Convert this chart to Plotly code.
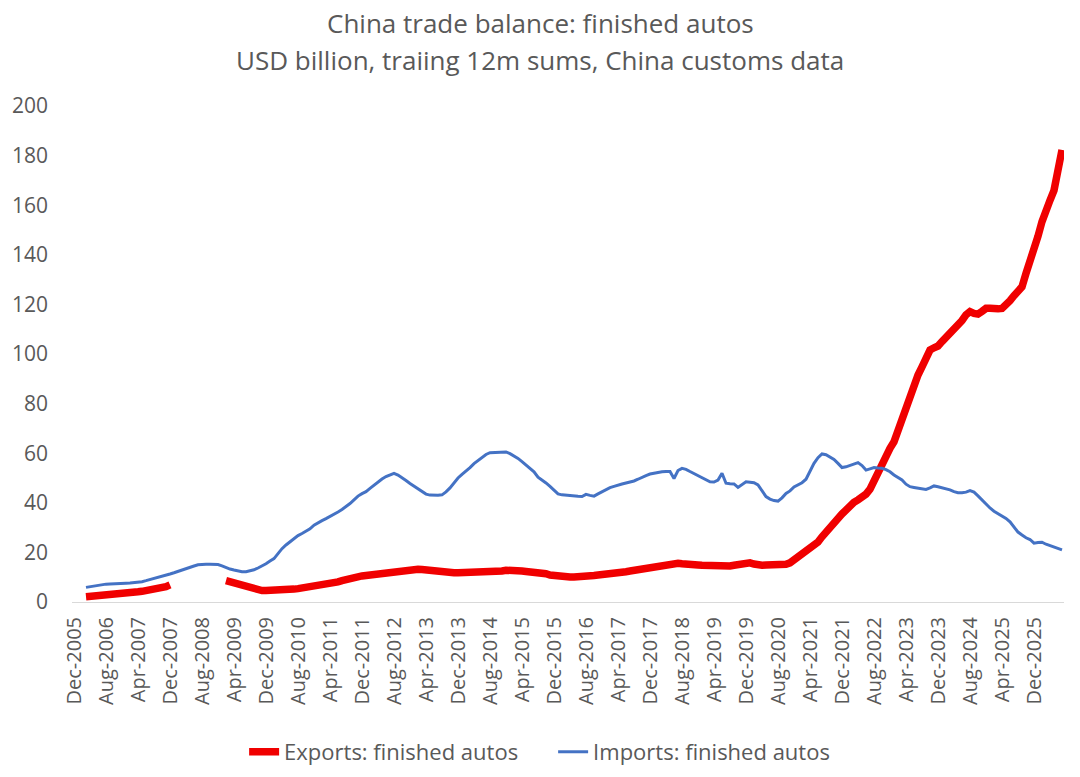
import pandas as pd
import plotly.graph_objects as go

# monthly categories, Dec-2005 .. Jul-2026
months = pd.date_range("2005-12-01", periods=248, freq="MS")
categories = [d.strftime("%b-%Y") for d in months]
tick_labels = categories[::8]

# trailing 12m imports, USD bn
imports = [None, None, None,
    5.9, 6.2, 6.5, 6.7, 7.0, 7.2, 7.3, 7.3, 7.4, 7.5,                # 2006
    7.6, 7.7, 7.8, 7.9, 8.2, 8.6, 9.0, 9.4, 9.8, 10.2, 10.7, 11.3,   # 2007
    11.8, 12.4, 13.0, 13.5, 14.0, 14.5, 15.0, 15.2, 15.2, 15.2, 15.2, 15.1,
    14.6, 13.9, 13.3, 12.9, 12.4, 12.2, 12.2, 12.5, 13.0, 13.7, 14.5, 15.4,
    16.5, 17.5, 19.5, 21.5, 23.0, 24.3, 25.6, 26.8, 27.6, 28.4, 29.5, 31.0,
    32.0, 32.8, 33.6, 34.4, 35.3, 36.3, 37.3, 38.4, 39.7, 41.2, 42.7, 43.7,
    44.5, 45.8, 47.1, 48.3, 49.6, 50.6, 51.4, 51.9, 51.2, 50.2, 49.0, 47.8,
    46.7, 45.6, 44.3, 43.5, 43.1, 43.0, 43.0, 43.2, 44.4, 46.0, 48.0, 50.0,
    51.5, 52.8, 54.2, 55.8, 57.0, 58.2, 59.5, 60.2, 60.3, 60.2, 60.4, 60.5,
    59.8, 59.0, 57.9, 56.6, 55.2, 53.9, 52.5, 50.3, 49.2, 48.0, 46.6, 45.0,
    43.6, 43.2, 43.0, 42.9, 42.7, 42.6, 42.5, 43.4, 43.0, 42.7, 43.6, 44.5,
    45.3, 46.1, 46.6, 47.2, 47.6, 48.0, 48.3, 48.8, 49.5, 50.4, 51.0, 51.6,
    52.0, 52.3, 52.5, 52.6, 52.6, 49.8, 53.0, 53.9, 53.5, 52.6, 51.8, 50.7,
    50.0, 49.2, 48.5, 48.4, 49.2, 51.9, 47.9, 47.7, 47.6, 46.2, 47.5, 48.5,
    48.3, 48.1, 47.2, 45.0, 42.5, 41.5, 40.9, 40.7, 42.0, 43.8, 44.8, 46.4,
    47.3, 48.1, 49.5, 52.5, 55.9, 58.2, 59.7, 59.4, 58.6, 57.5, 55.9, 54.2,
    54.5, 55.0, 55.6, 56.2, 55.0, 53.2, 53.7, 54.2, 54.0, 53.9, 53.4, 52.5,
    51.2, 50.3, 49.2, 47.5, 46.5, 46.2, 46.0, 45.7, 45.4, 46.0, 46.8, 46.5,
    46.1, 45.8, 45.2, 44.5, 44.1, 44.1, 44.3, 44.9, 44.3, 42.8, 41.1, 39.6,
    37.9, 36.6, 35.6, 34.7, 33.7, 32.3, 30.2, 28.2, 27.0, 25.9, 25.2, 23.7,
    24.0, 24.1, 23.3, 22.7, 22.2, 21.6, 21.0,                          # 2026
]

# trailing 12m exports, USD bn (gap in 2008 is in the source)
exports = [None, None, None,
    2.1, 2.2, 2.4, 2.5, 2.7, 2.8, 3.0, 3.1, 3.2, 3.3,                 # 2006
    3.5, 3.7, 3.9, 4.1, 4.3, 4.5, 4.7, 5.0, 5.3, 5.7, 6.2, 6.9,       # 2007
    None, None, None, None, None, None, None, None, None, None, None, None,
    None, 8.6, 8.1, 7.6, 7.0, 6.5, 6.0, 5.5, 5.1, 4.8, 4.6, 4.6,
    4.6, 4.6, 4.6, 4.7, 4.8, 5.0, 5.2, 5.4, 5.6, 5.8, 6.0, 6.2,
    6.5, 6.7, 6.9, 7.2, 7.6, 8.1, 8.6, 9.1, 9.5, 9.9, 10.2, 10.5,
    10.7, 10.9, 11.1, 11.3, 11.6, 11.9, 12.2, 12.5, 12.8, 12.9, 13.0, 13.1,
    13.2, 13.2, 13.1, 12.9, 12.6, 12.3, 12.0, 11.9, 11.8, 11.8, 11.8, 11.8,
    11.8, 11.8, 11.8, 11.8, 11.8, 11.8, 11.8, 11.8, 11.9, 12.1, 12.5, 12.8,
    12.9, 12.8, 12.6, 12.5, 12.3, 12.2, 12.1, 12.0, 11.8, 11.4, 10.9, 10.6,
    10.4, 10.3, 10.2, 10.1, 10.1, 10.1, 10.2, 10.3, 10.5, 10.7, 10.9, 11.0,
    11.1, 11.3, 11.5, 11.7, 11.9, 12.2, 12.5, 12.8, 13.1, 13.3, 13.5, 13.8,
    14.1, 14.4, 14.7, 15.0, 15.3, 15.5, 15.6, 15.4, 15.1, 14.9, 15.2, 14.9,
    14.8, 14.7, 14.5, 14.3, 14.2, 14.2, 14.3, 14.5, 14.8, 15.2, 15.5, 15.8,
    15.8, 15.3, 14.9, 14.8, 14.9, 14.9, 14.8, 14.8, 14.9, 15.2, 15.8, 16.9,
    18.2, 19.3, 20.3, 21.3, 22.3, 24.2, 26.3, 28.4, 30.2, 32.0, 33.7, 35.5,
    37.3, 39.1, 40.2, 41.2, 42.2, 43.5, 45.5, 49.0, 53.2, 56.0, 59.3, 62.0,
    64.6, 69.0, 73.4, 78.0, 83.0, 88.2, 91.5, 94.8, 98.2, 101.6, 102.5, 103.2,
    105.0, 106.6, 108.3, 109.5, 111.0, 113.5, 115.8, 117.1, 116.4, 116.1, 117.2, 118.4,
    118.4, 118.0, 118.2, 118.4, 119.5, 121.5, 123.5, 125.5, 127.1, 132.5, 137.0, 141.9,
    147.5, 153.4, 158.5, 162.0, 166.0, 174.2, 182.3,                  # 2026
]

title_lines = ["China trade balance: finished autos",
               "USD billion, traiing 12m sums, China customs data"]

GREY = "#595959"
FONT = "Open Sans"

fig = go.Figure()
fig.add_trace(go.Scatter(
    x=categories, y=exports, mode="lines", name="Exports: finished autos",
    line=dict(color="#F00000", width=7.5), connectgaps=False,
))
fig.add_trace(go.Scatter(
    x=categories, y=imports, mode="lines", name="Imports: finished autos",
    line=dict(color="#4472C4", width=3),
))

# two title lines as annotations, so the top line is not clipped
for txt, ypos in zip(title_lines, [1.167, 1.093]):
    fig.add_annotation(
        text=txt, xref="paper", yref="paper", x=0.472, y=ypos,
        xanchor="center", yanchor="middle", showarrow=False,
        font=dict(size=26, color=GREY, family=FONT),
    )

# page body has an 8px margin, so the figure is 16px smaller than the window;
# autoexpand off so the legend does not squeeze the plot area
fig.update_layout(
    width=1064, height=761,
    paper_bgcolor="white", plot_bgcolor="white",
    margin=dict(l=64, r=8, t=98, b=167, autoexpand=False),
    font=dict(family=FONT, color=GREY, size=19),
    legend=dict(
        orientation="h", x=0.485, xanchor="center", y=-0.26, yanchor="top",
        font=dict(size=22, color=GREY), itemwidth=30,
        entrywidth=264, entrywidthmode="pixels",
    ),
    showlegend=True,
)
fig.update_xaxes(
    type="category", categoryorder="array", categoryarray=categories,
    range=[-0.5, len(categories) - 0.5],
    tickmode="array", tickvals=tick_labels, ticktext=tick_labels,
    tickangle=-90, tickfont=dict(size=20, color=GREY), ticklabelstandoff=6,
    showgrid=False, showline=True, linecolor="#D9D9D9", linewidth=1,
    ticks="", zeroline=False, automargin=False,
)
fig.update_yaxes(
    range=[0, 200], dtick=20, showgrid=False, zeroline=False,
    showline=False, ticks="", ticklabelstandoff=23, automargin=False,
    tickfont=dict(size=21, color=GREY),
)

fig.write_html("out.html")
